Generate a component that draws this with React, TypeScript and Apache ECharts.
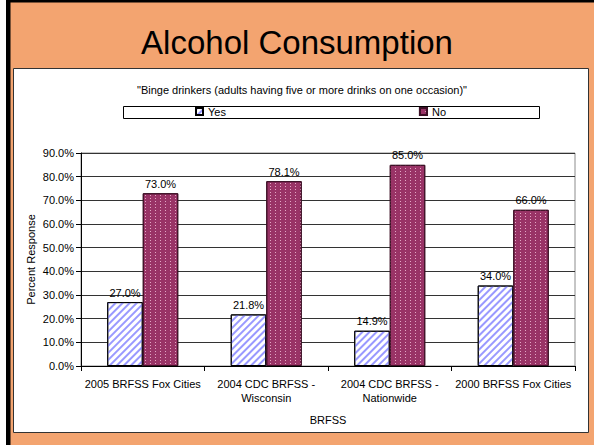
import React, { useEffect, useRef } from "react";
import * as echarts from "echarts";

const categories = [
  "2005 BRFSS Fox Cities",
  "2004 CDC BRFSS - Wisconsin",
  "2004 CDC BRFSS - Nationwide",
  "2000 BRFSS Fox Cities",
];
const yesValues = [27.0, 21.8, 14.9, 34.0];
const noValues = [73.0, 78.1, 85.0, 66.0];
const seriesNames = ["Yes", "No"];
const titleText = "Alcohol Consumption";
const subtitleText = '"Binge drinkers (adults having five or more drinks on one occasion)"';
const yAxisName = "Percent Response";
const xAxisName = "BRFSS";

const FONT = "'Liberation Sans', Arial, sans-serif";

export default function App() {
  const ref = useRef<HTMLDivElement>(null);
  useEffect(() => {
    document.body.style.margin = "0";
    const chart = echarts.init(ref.current as HTMLDivElement, null, { renderer: "svg" });
    const pct = (v: number) => v.toFixed(1) + "%";
    chart.setOption({
      animation: false,
      textStyle: { fontFamily: FONT },
      title: {
        text: titleText,
        left: "center",
        top: 24,
        padding: 0,
        textStyle: { fontFamily: FONT, fontSize: 33, fontWeight: "normal", color: "#000", lineHeight: 36 },
      },
      graphic: [
        { type: "rect", z: -10, shape: { x: 0, y: 0, width: 6, height: 445 }, style: { fill: "#ffffff" } },
        { type: "rect", z: -9, shape: { x: 6, y: 0, width: 4.5, height: 445 }, style: { fill: "#000000" } },
        { type: "rect", z: -9, shape: { x: 6, y: 0, width: 588, height: 2.5 }, style: { fill: "#000000" } },
        {
          type: "rect",
          z: -8,
          shape: { x: 13.5, y: 68.5, width: 575, height: 364 },
          style: { fill: "#ffffff", stroke: "#333333", lineWidth: 1 },
        },
        {
          type: "text",
          z: -7,
          x: 302,
          y: 90,
          style: {
            text: subtitleText,
            textAlign: "center",
            textVerticalAlign: "middle",
            fontFamily: FONT,
            fontSize: 11,
            fill: "#000",
          },
        },
        {
          type: "rect",
          z: -7,
          shape: { x: 123.5, y: 106.5, width: 416, height: 12 },
          style: { fill: "#ffffff", stroke: "#000000", lineWidth: 1 },
        },
      ],
      legend: {
        data: seriesNames,
        left: 195,
        top: 106,
        padding: 0,
        itemGap: 193,
        itemWidth: 7,
        itemHeight: 7,
        icon: "rect",
        textStyle: { fontFamily: FONT, fontSize: 11, color: "#000" },
      },
      grid: {
        left: 81,
        right: 19,
        top: 153,
        bottom: 79,
        show: true,
        borderColor: "#8c8c8c",
        borderWidth: 1,
        containLabel: false,
        outerBoundsMode: "none",
      },
      xAxis: {
        type: "category",
        data: categories,
        name: xAxisName,
        nameLocation: "middle",
        nameGap: 48,
        nameMoveOverlap: false,
        nameTextStyle: { fontFamily: FONT, fontSize: 11, color: "#000" },
        axisLine: { lineStyle: { color: "#000", width: 1 } },
        axisTick: { show: true, length: 5, lineStyle: { color: "#000" } },
        axisLabel: {
          fontFamily: FONT,
          fontSize: 11,
          color: "#000",
          margin: 11,
          lineHeight: 14,
          interval: 0,
          formatter: (v: string) => v.replace(" - ", " -\n"),
        },
      },
      yAxis: {
        type: "value",
        min: 0,
        max: 90,
        interval: 10,
        name: yAxisName,
        nameLocation: "middle",
        nameGap: 45,
        nameMoveOverlap: false,
        nameTextStyle: { fontFamily: FONT, fontSize: 11, color: "#000" },
        axisLine: { show: true, lineStyle: { color: "#000", width: 1 } },
        axisTick: { show: true, length: 5, lineStyle: { color: "#000" } },
        axisLabel: { fontFamily: FONT, fontSize: 11, color: "#000", margin: 7, formatter: pct },
        splitLine: { show: true, lineStyle: { color: "#333333", width: 1 } },
      },
      series: [
        {
          name: seriesNames[0],
          type: "bar",
          data: yesValues,
          barGap: "0%",
          barCategoryGap: "42.5%",
          itemStyle: {
            color: "#ffffff",
            borderColor: "#000000",
            borderWidth: 1,
            decal: {
              symbol: "rect",
              symbolSize: 1,
              color: "#9999ff",
              dashArrayX: [1, 0],
              dashArrayY: [2, 3],
              rotation: -Math.PI / 4,
            },
          },
          label: {
            show: true,
            position: "top",
            distance: 4,
            fontFamily: FONT,
            fontSize: 11,
            color: "#000",
            formatter: (p: any) => pct(p.value),
          },
        },
        {
          name: seriesNames[1],
          type: "bar",
          data: noValues,
          barGap: "0%",
          barCategoryGap: "42.5%",
          itemStyle: {
            color: "#993366",
            borderColor: "#3d1026",
            borderWidth: 1,
            decal: {
              symbol: "rect",
              symbolSize: 1,
              color: "#e3a6c4",
              dashArrayX: [1, 4],
              dashArrayY: [1, 2],
              rotation: 0,
            },
          },
          label: {
            show: true,
            position: "top",
            distance: 4,
            fontFamily: FONT,
            fontSize: 11,
            color: "#000",
            formatter: (p: any) => pct(p.value),
          },
        },
      ],
    });
    return () => chart.dispose();
  }, []);
  return <div ref={ref} style={{ width: 594, height: 445, background: "#F3A470" }} />;
}
